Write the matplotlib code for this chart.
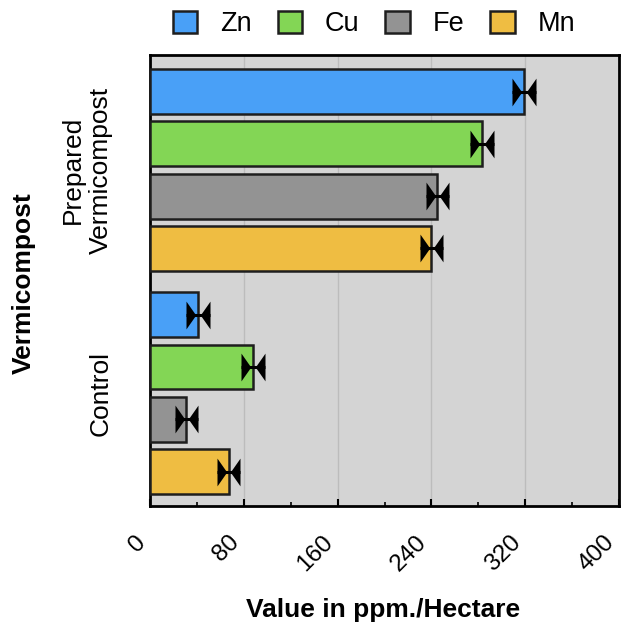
import matplotlib
matplotlib.use("Agg")
import matplotlib.pyplot as plt
import numpy as np
from matplotlib.patches import Patch
from matplotlib.ticker import MultipleLocator
from matplotlib.transforms import ScaledTranslation

plt.rcParams['font.family'] = ['Liberation Sans', 'DejaVu Sans']

groups = ["Prepared\nVermicompost", "Control"]
elements = ["Zn", "Cu", "Fe", "Mn"]
values = {
    "Zn": [319, 41],
    "Cu": [283, 88],
    "Fe": [245, 31],
    "Mn": [240, 67],
}
errors = {
    "Zn": [10, 10],
    "Cu": [10, 10],
    "Fe": [10, 10],
    "Mn": [10, 10],
}
colors = {"Zn": "#49a0f7", "Cu": "#83d655", "Fe": "#939393", "Mn": "#efbd42"}
xticks = [0, 80, 160, 240, 320, 400]

fig = plt.figure(figsize=(6.22, 6.29), dpi=100)
L, R, T, B = 150, 619, 55, 506
ax = fig.add_axes([L/622, 1-B/629, (R-L)/622, (B-T)/629])
ax.set_facecolor("#d4d4d4")

left_cap = [(0, -1), (0, 1), (0.7, 0), (0, -1)]
right_cap = [(0, -1), (0, 1), (-0.7, 0), (0, -1)]

group_step = 4.27
bar_h = 0.86
for gi, g in enumerate(groups):
    for ei, e in enumerate(elements):
        y = gi * group_step + ei
        v = values[e][gi]
        err = errors[e][gi]
        ax.barh(y, v, height=bar_h, color=colors[e], edgecolor="#1e1e1e", linewidth=1.8, zorder=3)
        ax.plot([v - err, v + err], [y, y], color="black", lw=2.2, zorder=4, solid_capstyle="butt")
        ax.plot([v - err], [y], marker=left_cap, color="black", markersize=20, markeredgewidth=0, zorder=4)
        ax.plot([v + err], [y], marker=right_cap, color="black", markersize=20, markeredgewidth=0, zorder=4)

ax.set_xlim(0, 400)
ax.set_ylim(7.93, -0.70)
ax.set_xticks(xticks)
ax.set_xticklabels([str(t) for t in xticks], rotation=45, fontsize=17.5, ha="right")
shift = ScaledTranslation(7/100, 0, fig.dpi_scale_trans)
for lab in ax.get_xticklabels():
    lab.set_transform(lab.get_transform() + shift)
ax.xaxis.set_minor_locator(MultipleLocator(40))
ax.tick_params(axis="x", which="major", direction="in", length=5, width=1.5, pad=18)
ax.tick_params(axis="x", which="minor", direction="in", length=3, width=1.2)
ax.grid(axis="x", color="#bcbcbc", lw=1, zorder=0)
ax.set_axisbelow(True)

centers = [gi * group_step + 1.5 for gi in range(len(groups))]
ax.set_yticks(centers)
ax.set_yticklabels(groups, rotation=90, fontsize=19, va="center", ha="right", multialignment="center")
ax.tick_params(axis="y", length=0, pad=27)

for s in ax.spines.values():
    s.set_linewidth(2)
    s.set_color("black")

ax.set_xlabel("Value in ppm./Hectare", fontsize=19, fontweight="bold", va="top")
ax.xaxis.set_label_coords((383 - L) / (R - L), (B - 598) / (B - T))
fig.text(24/622, 1-283/629, "Vermicompost", fontsize=19, fontweight="bold", rotation=90,
         ha="center", va="center")

handles = [Patch(facecolor=colors[e], edgecolor="#1e1e1e", linewidth=1.8, label=e) for e in elements]
fig.legend(handles=handles, loc="center", bbox_to_anchor=(374/622, 1-24/629), ncol=4,
           frameon=False, fontsize=19.5, handlelength=0.9, handleheight=0.9,
           columnspacing=0.95, handletextpad=0.85, borderpad=0)

fig.savefig("out.png", dpi=100)
